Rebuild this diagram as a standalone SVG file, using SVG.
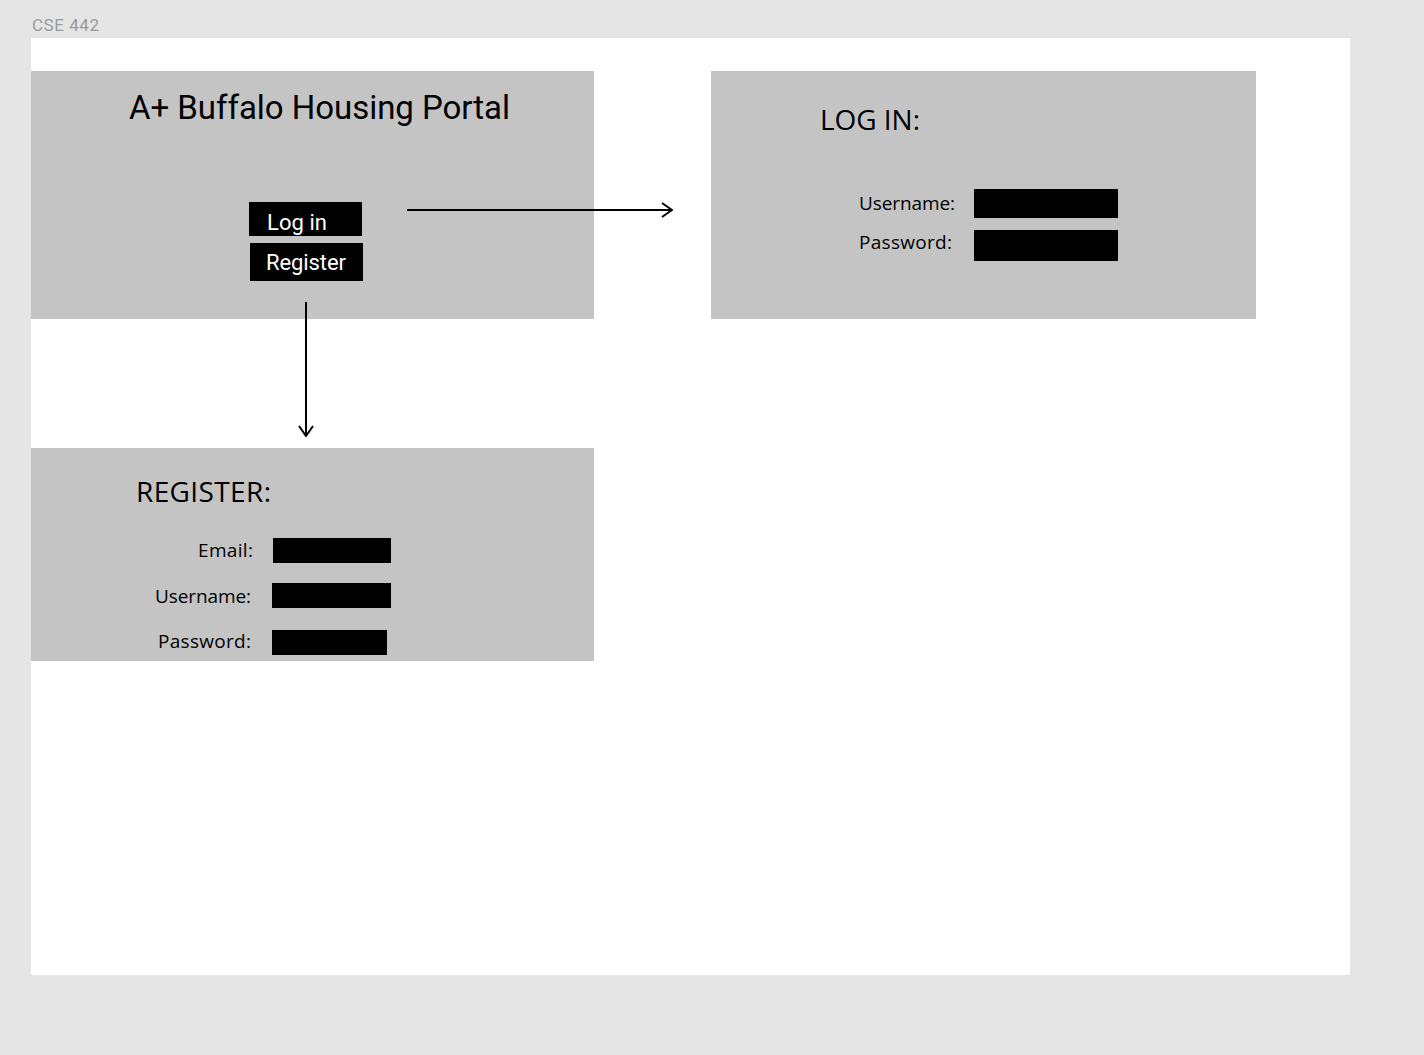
<svg xmlns="http://www.w3.org/2000/svg" width="1424" height="1055" viewBox="0 0 1424 1055">
<defs>
<style>
.panel{fill:#c4c4c4}
.field{fill:#000}
.btn{fill:#000}
.h{font-family:"Open Sans","Noto Sans",sans-serif;font-size:28px;fill:#000}
.lbl{font-family:"Open Sans","Noto Sans",sans-serif;font-size:19px;fill:#000}
.btxt{font-family:Roboto,"Liberation Sans",sans-serif;font-size:22px;fill:#fff}
.conn{stroke:#000;stroke-width:2;fill:none}
</style>
<marker id="arr" viewBox="0 0 12 16" refX="11" refY="8" markerWidth="12" markerHeight="16" markerUnits="userSpaceOnUse" orient="auto">
<path d="M1,1 L11,8 L1,15" fill="none" stroke="#000" stroke-width="2"/>
</marker>
</defs>
<rect x="0" y="0" width="1424" height="1055" fill="#e5e5e5"/>
<text x="32" y="31" font-family="Roboto,'Liberation Sans',sans-serif" font-size="17" fill="#9a9a9a" textLength="67">CSE 442</text>
<rect x="31" y="38" width="1319" height="937" fill="#fff"/>

<g id="home">
<rect class="panel" x="31" y="71" width="563" height="248"/>
<text x="129" y="119" font-family="Roboto,'Liberation Sans',sans-serif" font-size="33" fill="#000" textLength="381">A+ Buffalo Housing Portal</text>
<g id="btn-login">
<rect class="btn" x="249" y="202" width="113" height="34"/>
<text class="btxt" x="267" y="230" textLength="60">Log in</text>
</g>
<g id="btn-register">
<rect class="btn" x="250" y="243" width="113" height="38"/>
<text class="btxt" x="266" y="270" textLength="80">Register</text>
</g>
</g>

<g id="login">
<rect class="panel" x="711" y="71" width="545" height="248"/>
<text class="h" x="820" y="130" textLength="100">LOG IN:</text>
<text class="lbl" x="859" y="210" textLength="96">Username:</text>
<rect class="field" x="974" y="189" width="144" height="29"/>
<text class="lbl" x="859" y="249" textLength="93">Password:</text>
<rect class="field" x="974" y="230" width="144" height="31"/>
</g>

<g id="register">
<rect class="panel" x="31" y="448" width="563" height="213"/>
<text class="h" x="136" y="502" textLength="135">REGISTER:</text>
<text class="lbl" x="198" y="557" textLength="55">Email:</text>
<rect class="field" x="273" y="538" width="118" height="25"/>
<text class="lbl" x="155" y="603" textLength="96">Username:</text>
<rect class="field" x="272" y="583" width="119" height="25"/>
<text class="lbl" x="158" y="648" textLength="93">Password:</text>
<rect class="field" x="272" y="630" width="115" height="25"/>
</g>

<g id="connectors">
<line class="conn" x1="407" y1="210" x2="672" y2="210" marker-end="url(#arr)"/>
<line class="conn" x1="306" y1="302" x2="306" y2="436" marker-end="url(#arr)"/>
</g>
</svg>
